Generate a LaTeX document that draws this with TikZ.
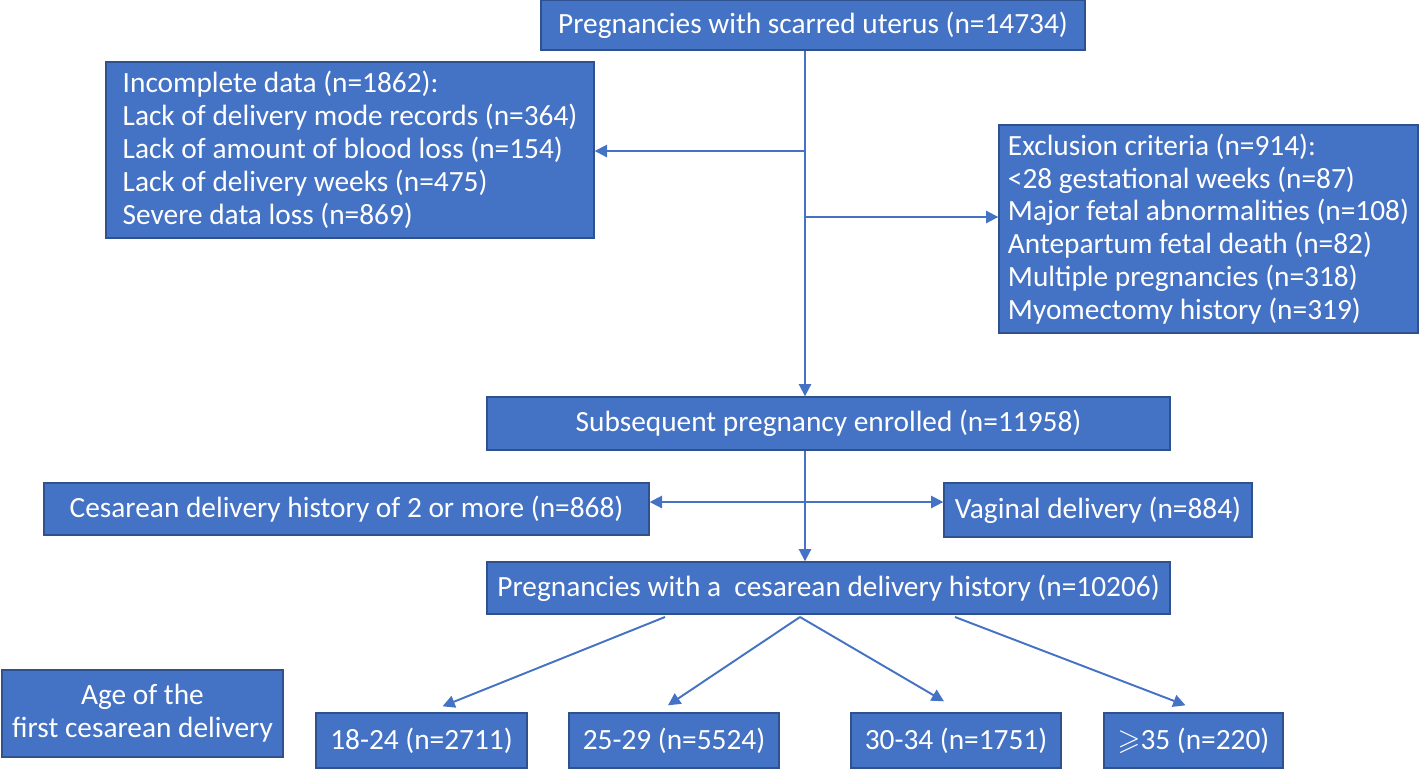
\documentclass[tikz,border=0pt]{standalone}
\usepackage{amssymb}
\usepackage{fontspec}
\setmainfont{Carlito}
\usetikzlibrary{arrows.meta}
\definecolor{boxblue}{RGB}{68,114,196}
\definecolor{edgeblue}{RGB}{47,82,143}
\tikzset{
    flowbox/.style 2 args={draw=edgeblue, fill=boxblue, line width=0.8pt, text=white, inner sep=0pt,
        minimum width=#1*0.02cm, minimum height=#2*0.02cm, font=\fontsize{16.7}{18.7}\selectfont},
    flowarrow/.style={draw=boxblue, line width=1.1pt, -{Triangle[length=7pt,width=7pt]}},
}
\begin{document}
\begin{tikzpicture}[x=0.02cm,y=-0.02cm]
        \useasboundingbox (0,0) rectangle (1419,769);
        \def\splitX{805}

        % screening boxes
        \node[flowbox={544}{50}] (total) at (813,25) {Pregnancies with scarred uterus (n=14734)};
        \node[flowbox={488}{176}, align=left] (incomplete) at (350,150) {Incomplete data (n=1862):\\Lack of delivery mode records (n=364)\\Lack of amount of blood loss (n=154)\\Lack of delivery weeks (n=475)\\Severe data loss (n=869)};
        \node[flowbox={419}{208}, align=left] (exclusion) at (1208.5,229) {Exclusion criteria (n=914):\\<28 gestational weeks (n=87)\\Major fetal abnormalities (n=108)\\Antepartum fetal death (n=82)\\Multiple pregnancies (n=318)\\Myomectomy history (n=319)};
        \node[flowbox={683}{53}] (enrolled) at (828.5,423.5) {Subsequent pregnancy enrolled (n=11958)};
        \node[flowbox={605}{52}] (repeat) at (346.5,509) {Cesarean delivery history of 2 or more (n=868)};
        \node[flowbox={308}{54}] (vaginal) at (1098,510) {Vaginal delivery (n=884)};
        \node[flowbox={683}{52}] (cesarean) at (828.5,588) {Pregnancies with a\ \ cesarean delivery history (n=10206)};

        % age groups
        \node[flowbox={281}{87}, align=center] (age) at (142.5,713.5) {Age of the\\first cesarean delivery};
        \node[flowbox={211}{55}] (ageA) at (421.5,740.5) {18-24 (n=2711)};
        \node[flowbox={210}{55}] (ageB) at (674,740.5) {25-29 (n=5524)};
        \node[flowbox={210}{55}] (ageC) at (956,740.5) {30-34 (n=1751)};
        \node[flowbox={179}{55}] (ageD) at (1193.5,740.5) {$\geqslant$35 (n=220)};

        \coordinate (splitInc) at (\splitX,151);
        \coordinate (splitExc) at (\splitX,217);
        \coordinate (splitSec) at (\splitX,502);

        \draw[flowarrow] (total.south -| splitInc) -- (enrolled.north -| splitInc);
        \draw[flowarrow] (splitInc) -- (splitInc -| incomplete.east);
        \draw[flowarrow] (splitExc) -- (splitExc -| exclusion.west);
        \draw[flowarrow] (enrolled.south -| splitSec) -- (cesarean.north -| splitSec);
        \draw[flowarrow] (splitSec) -- (splitSec -| repeat.east);
        \draw[flowarrow] (splitSec) -- (splitSec -| vaginal.west);

        \coordinate (fanA) at (665,617);
        \coordinate (fanB) at (800,617);
        \coordinate (fanC) at (955,617);
        \draw[flowarrow] (fanA) -- ([shift={(21,-6)}]ageA.north);
        \draw[flowarrow] (fanB) -- ([shift={(-6,-7)}]ageB.north);
        \draw[flowarrow] (fanB) -- ([shift={(-12,-11)}]ageC.north);
        \draw[flowarrow] (fanC) -- ([shift={(-8,-7)}]ageD.north);
\end{tikzpicture}
\end{document}
